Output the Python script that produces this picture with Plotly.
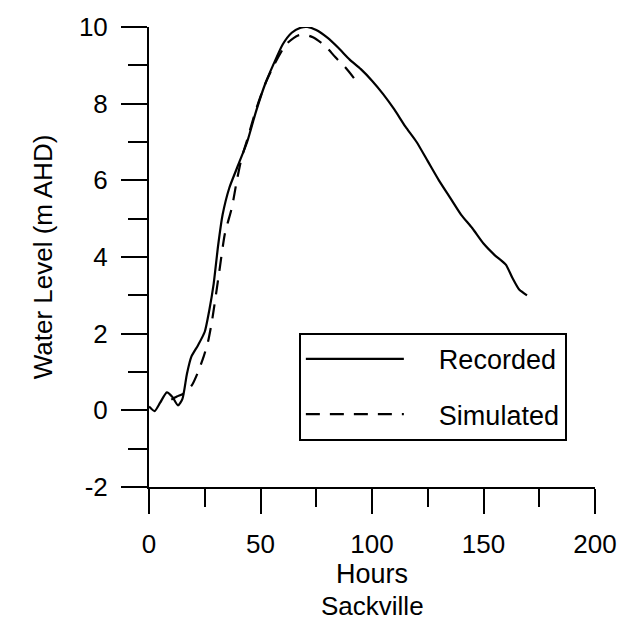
import plotly.graph_objects as go

# Recorded water level (hours, m AHD)
rec_hours = [0, 2.5, 5, 8, 10.5, 13, 15, 17, 19, 22, 25, 27, 29, 31, 33, 36, 40, 44, 48,
             52, 56, 60, 64, 68, 71, 75, 80, 85, 90, 95, 100, 105, 110, 115, 120, 125,
             130, 135, 140, 145, 150, 155, 160, 163, 166, 169.5]
rec_level = [0.1, -0.02, 0.2, 0.47, 0.35, 0.13, 0.3, 0.95, 1.4, 1.7, 2.05, 2.6, 3.3, 4.3,
             5.1, 5.8, 6.4, 7.0, 7.8, 8.5, 9.05, 9.55, 9.85, 9.98, 10.0, 9.92, 9.72, 9.45,
             9.15, 8.9, 8.6, 8.25, 7.85, 7.4, 7.0, 6.5, 6.0, 5.55, 5.1, 4.75, 4.35, 4.05,
             3.8, 3.45, 3.15, 3.0]

# Simulated water level
sim_hours = [10, 12.5, 15, 17, 19.5, 22, 24.5, 26.5, 28.3, 31.4, 34, 37.2, 39.4, 41.6, 44,
             48, 52, 56, 61.5, 66.8, 70, 73.5, 78.8, 83.6, 88, 92, 94.2]
sim_level = [0.28, 0.36, 0.42, 0.5, 0.68, 1.0, 1.4, 1.8, 2.35, 3.57, 4.6, 5.3, 6.0, 6.6,
             7.05, 7.85, 8.5, 9.0, 9.55, 9.78, 9.8, 9.73, 9.52, 9.21, 8.95, 8.66, 8.48]

x_ticks = [0, 50, 100, 150, 200]
x_labels = ["0", "50", "100", "150", "200"]
y_ticks = [-2, 0, 2, 4, 6, 8, 10]
y_labels = ["-2", "0", "2", "4", "6", "8", "10"]

FONT = "Liberation Sans, Arial, sans-serif"
NB = "\u00a0" * 4

fig = go.Figure()
fig.add_trace(go.Scatter(x=rec_hours, y=rec_level, mode="lines", name=NB + "Recorded",
                         line=dict(color="black", width=2.2, shape="spline", smoothing=0.6),
                         legendgroup="a"))
fig.add_trace(go.Scatter(x=sim_hours, y=sim_level, mode="lines", name=NB + "Simulated",
                         line=dict(color="black", width=2.2, dash="14px,10px",
                                   shape="spline", smoothing=0.6),
                         legendgroup="b"))

axis_common = dict(showline=True, linecolor="black", linewidth=2, ticks="outside",
                   tickcolor="black", tickwidth=2, showgrid=False, zeroline=False,
                   tickfont=dict(family=FONT, size=26, color="black"))

fig.update_layout(
    width=629, height=625,
    margin=dict(l=149, r=28, t=27, b=138),
    paper_bgcolor="white", plot_bgcolor="white",
    font=dict(family=FONT, color="black"),
    xaxis=dict(range=[0, 200], tickvals=x_ticks, ticktext=x_labels, ticklen=25,
               minor=dict(dtick=25, ticklen=18, tickwidth=2, tickcolor="black", ticks="outside"),
               ticklabelstandoff=8,
               title=dict(text="Hours", font=dict(family=FONT, size=27, color="black"), standoff=0),
               **axis_common),
    yaxis=dict(range=[-2, 10], tickvals=y_ticks, ticktext=y_labels, ticklen=26,
               minor=dict(dtick=1, ticklen=19, tickwidth=2, tickcolor="black", ticks="outside"),
               ticklabelstandoff=8,
               title=dict(text="Water Level (m AHD)", font=dict(family=FONT, size=26, color="black"),
                          standoff=19),
               **axis_common),
    showlegend=True,
    legend=dict(x=0.336, y=0.335, xanchor="left", yanchor="top",
                bordercolor="black", borderwidth=2, bgcolor="white",
                font=dict(family=FONT, size=27, color="black"),
                itemwidth=98, tracegroupgap=17, traceorder="grouped"),
    annotations=[dict(text="Sackville", xref="paper", yref="paper", x=0.5, y=-0.258,
                      xanchor="center", yanchor="middle", showarrow=False,
                      font=dict(family=FONT, size=26, color="black"))],
)

fig.write_html("out.html")
